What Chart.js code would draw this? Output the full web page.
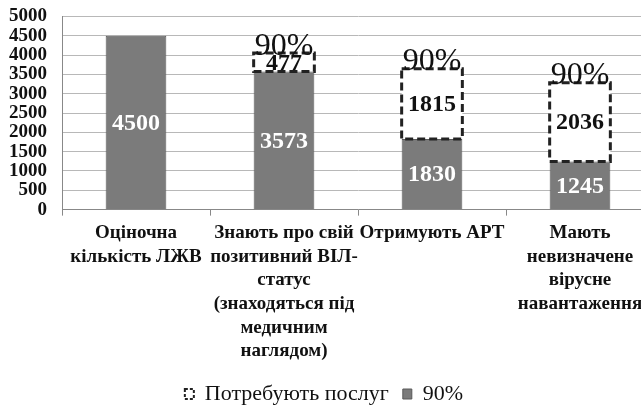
<!DOCTYPE html>
<html>
<head>
<meta charset="utf-8">
<script src="https://cdn.jsdelivr.net/npm/chart.js@4"></script>
<style>
  html, body { margin: 0; padding: 0; background: #fff; overflow: hidden; }
  /* the original is cropped on the right and top, so the canvas is a bit larger than the window */
  #wrap { width: 662px; height: 425px; margin-left: -6px; margin-top: -10px; }
</style>
</head>
<body>
<div id="wrap"><canvas id="chart"></canvas></div>
<script>
const categories = [
    ['Оціночна', 'кількість ЛЖВ'],
    ['Знають про свій', 'позитивний ВІЛ-', 'статус', '(знаходяться під', 'медичним', 'наглядом)'],
    ['Отримують АРТ'],
    ['Мають', 'невизначене', 'вірусне', 'навантаження']
];
const reached = [4500, 3573, 1830, 1245];      // 90% (gray)
const needed = [0, 477, 1815, 2036];           // Потребують послуг (dashed)
const topLabels = ['', '90%', '90%', '90%'];

const serif = "'Liberation Serif', 'Times New Roman', serif";
Chart.defaults.font.family = serif;

// value labels, dashed outlines and the "90%" captions
const barLabels = {
    id: 'barLabels',
    afterDatasetsDraw(chart) {
        const ctx = chart.ctx;
        const gray = chart.getDatasetMeta(0);
        const dash = chart.getDatasetMeta(1);
        ctx.save();
        dash.data.forEach((bar, i) => {
            if (!needed[i]) return;
            const left = bar.x - bar.width / 2;
            ctx.setLineDash([8, 4]);
            ctx.lineWidth = 3;
            ctx.strokeStyle = '#222';
            ctx.strokeRect(left, bar.y, bar.width, bar.base - bar.y);
        });
        ctx.setLineDash([]);
        ctx.textAlign = 'center';
        ctx.textBaseline = 'middle';
        gray.data.forEach((bar, i) => {
            ctx.font = 'bold 24px ' + serif;
            ctx.fillStyle = '#fff';
            ctx.fillText(String(reached[i]), bar.x, (bar.y + bar.base) / 2 + 1);
        });
        dash.data.forEach((bar, i) => {
            if (!needed[i]) return;
            ctx.fillStyle = '#111';
            ctx.font = 'bold 24px ' + serif;
            ctx.fillText(String(needed[i]), bar.x, (bar.y + bar.base) / 2 + 1);
            ctx.font = '32px ' + serif;
            ctx.fillText(topLabels[i], bar.x, bar.y - 7);
        });
        ctx.restore();
    }
};

new Chart(document.getElementById('chart'), {
    type: 'bar',
    data: {
        labels: categories,
        datasets: [
            {
                label: '90%',
                data: reached,
                backgroundColor: '#7b7b7b',
                borderColor: '#5a5a5a',
                borderWidth: 1,
                categoryPercentage: 1,
                barPercentage: 0.41
            },
            {
                label: 'Потребують послуг',
                data: needed,
                backgroundColor: '#ffffff',
                borderWidth: 0,
                categoryPercentage: 1,
                barPercentage: 0.41
            }
        ]
    },
    options: {
        responsive: true,
        maintainAspectRatio: false,
        animation: false,
        layout: { padding: { top: 0, right: 2, left: 0, bottom: 0 } },
        scales: {
            x: {
                stacked: true,
                grid: {
                    offset: true,
                    drawOnChartArea: false,
                    drawTicks: true,
                    tickLength: 6,
                    color: '#888'
                },
                border: { color: '#888' },
                ticks: {
                    color: '#111',
                    autoSkip: false,
                    maxRotation: 0,
                    padding: 6,
                    font: { family: serif, size: 19, weight: 'bold', lineHeight: 1.24 }
                }
            },
            y: {
                stacked: true,
                min: 0,
                max: 5000,
                grid: { color: '#b8b8b8', drawTicks: false },
                border: { color: '#888' },
                ticks: {
                    stepSize: 500,
                    autoSkip: false,
                    color: '#111',
                    padding: 15,
                    callback: v => String(v),
                    font: { family: serif, size: 19, weight: 'bold' }
                }
            }
        },
        plugins: {
            tooltip: { enabled: false },
            legend: {
                position: 'bottom',
                labels: {
                    color: '#111',
                    boxWidth: 9,
                    boxHeight: 10,
                    padding: 14,
                    font: { family: serif, size: 22 },
                    generateLabels(chart) {
                        return [
                            {
                                text: 'Потребують послуг',
                                fillStyle: '#fff',
                                strokeStyle: '#222',
                                fontColor: '#111',
                                lineWidth: 2,
                                lineDash: [3, 2],
                                datasetIndex: 1
                            },
                            {
                                text: '90%',
                                fillStyle: '#7b7b7b',
                                strokeStyle: '#5a5a5a',
                                fontColor: '#111',
                                lineWidth: 1,
                                datasetIndex: 0
                            }
                        ];
                    }
                }
            }
        }
    },
    plugins: [barLabels]
});
</script>
</body>
</html>
